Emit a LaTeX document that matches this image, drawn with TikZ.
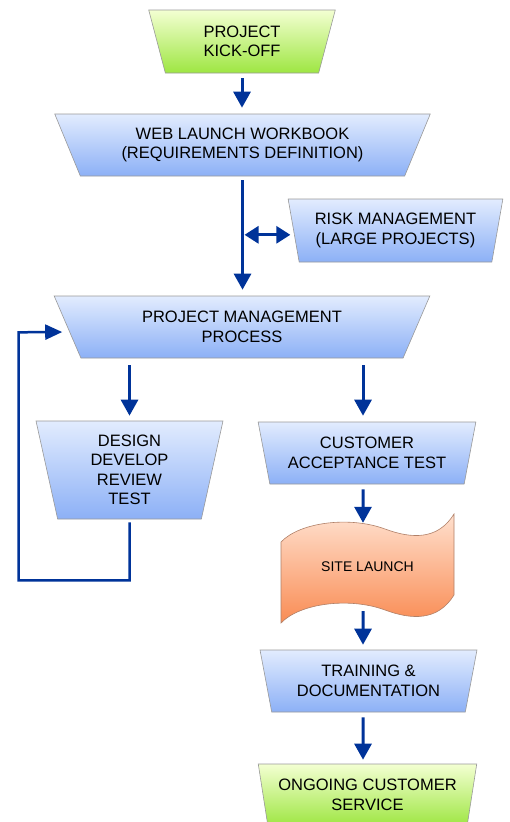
\documentclass[tikz,border=0pt]{standalone}
\usepackage{fontspec}
\setmainfont{Liberation Sans}
\usetikzlibrary{shapes.geometric,arrows.meta}

\definecolor{blueTop}{RGB}{226,236,254}
\definecolor{blueBot}{RGB}{140,176,246}
\definecolor{greenTop}{RGB}{243,255,210}
\definecolor{greenBot}{RGB}{158,230,66}
\definecolor{orangeTop}{RGB}{255,224,206}
\definecolor{orangeBot}{RGB}{249,140,84}
\definecolor{orangeEdge}{RGB}{176,128,104}
\definecolor{arrowBlue}{RGB}{0,51,153}

\begin{document}
\begin{tikzpicture}[
    x=1pt, y=-1pt,
    every node/.style={align=center, inner sep=0pt, font=\fontsize{16.5}{19.5}\selectfont},
    stage/.style={trapezium, shape border rotate=180, trapezium stretches=true, draw=black!40, line width=0.6pt},
    bluebox/.style={stage, top color=blueTop, bottom color=blueBot},
    greenbox/.style={stage, top color=greenTop, bottom color=greenBot},
    arrow/.style={-{Triangle[length=16pt,width=17pt]}, line width=3pt, draw=arrowBlue},
    dblarrow/.style={{Triangle[length=14pt,width=17pt]}-{Triangle[length=14pt,width=17pt]}, line width=3pt, draw=arrowBlue},
    looparrow/.style={-{Triangle[length=17pt,width=15pt]}, line width=2.5pt, draw=arrowBlue}
]
\clip (0,0) rectangle (510,822);

\node[greenbox, minimum width=188pt, minimum height=63pt, trapezium angle=75] (kick) at (242,41.5) {PROJECT\\KICK-OFF};
\node[bluebox, minimum width=377pt, minimum height=62pt, trapezium angle=61] (web) at (242.5,145) {WEB LAUNCH WORKBOOK\\(REQUIREMENTS DEFINITION)};
\node[bluebox, minimum width=215pt, minimum height=63pt, trapezium angle=75] (risk) at (395.5,230.5) {RISK MANAGEMENT\\(LARGE PROJECTS)};
\node[bluebox, minimum width=376pt, minimum height=62pt, trapezium angle=62] (pm) at (242,327) {PROJECT MANAGEMENT\\PROCESS};
\node[bluebox, minimum width=187pt, minimum height=98pt, trapezium angle=80.5] (design) at (129.5,470) {DESIGN\\DEVELOP\\REVIEW\\TEST};
\node[bluebox, minimum width=218pt, minimum height=62pt, trapezium angle=73] (cat) at (367,453) {CUSTOMER\\ACCEPTANCE TEST};

\shade[top color=orangeTop, bottom color=orangeBot, draw=orangeEdge, line width=0.6pt]
    (281,542) .. controls (300,522) and (350,516) .. (385,529)
    .. controls (412,539) and (438,540) .. (454,514) -- (454,595)
    .. controls (438,621) and (412,620) .. (385,610)
    .. controls (350,597) and (300,603) .. (281,623) -- cycle;
\node[minimum width=173pt, minimum height=88pt, font=\fontsize{14}{16}\selectfont] (site) at (367.5,567) {SITE LAUNCH};

\node[bluebox, minimum width=217pt, minimum height=62pt, trapezium angle=74.5] (train) at (368.5,681) {TRAINING \&\\DOCUMENTATION};
\node[greenbox, minimum width=219pt, minimum height=62pt, trapezium angle=74.5] (service) at (367.5,795) {ONGOING CUSTOMER\\SERVICE};

\draw[arrow, shorten <=5pt, shorten >=6pt] (kick.south) -- (kick.south |- web.north);
\draw[arrow, shorten <=4pt, shorten >=6pt] (web.south) -- (web.south |- pm.north) coordinate[pos=0.49] (junc);
\draw[dblarrow, shorten <=2pt, shorten >=3pt] (junc) -- (junc -| risk.west);
\draw[arrow, shorten <=7pt, shorten >=5pt] (design.north |- pm.south) -- (design.north);
\draw[arrow, shorten <=7pt, shorten >=6pt] ([xshift=-4pt]cat.north |- pm.south) -- ([xshift=-4pt]cat.north);
\draw[looparrow, shorten <=3pt, shorten >=5pt] (design.south) -- ++(0,61) -| ++(-111,-248) -- ([yshift=-5pt]pm.west);
\draw[arrow, shorten <=5pt] ([xshift=-4pt]cat.south) -- ([xshift=-4.5pt]site.north);
\draw[arrow, shorten >=5pt] ([xshift=-4.5pt]site.south) -- ([xshift=-5.5pt]train.north);
\draw[arrow, shorten <=5pt, shorten >=4pt] ([xshift=-5.5pt]train.south) -- ([xshift=-4.5pt]service.north);
\end{tikzpicture}
\end{document}
